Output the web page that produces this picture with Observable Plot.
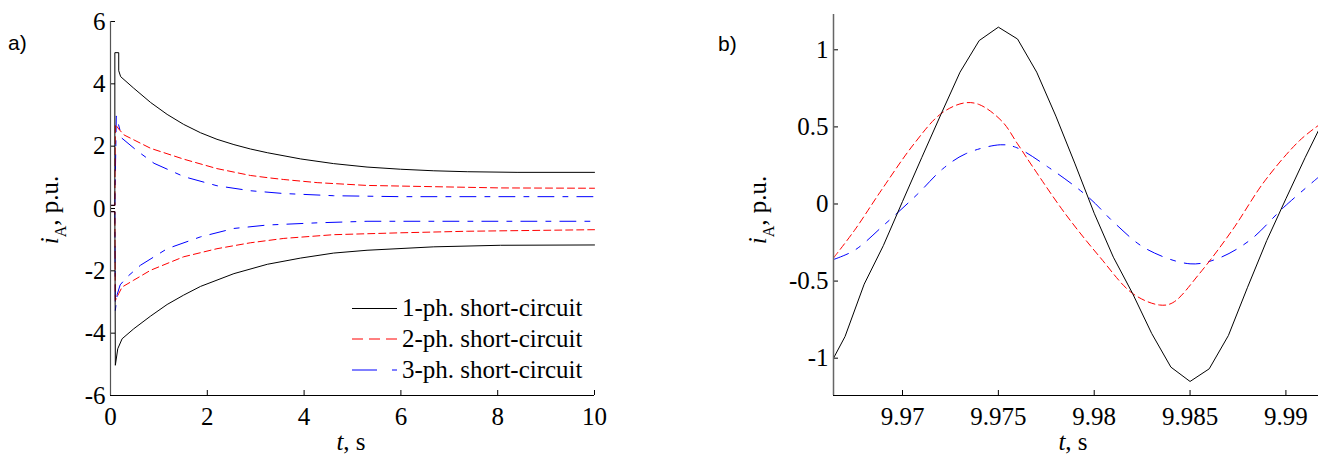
<!DOCTYPE html>
<html><head><meta charset="utf-8">
<script src="https://cdn.jsdelivr.net/npm/d3@7"></script>
<script src="https://cdn.jsdelivr.net/npm/@observablehq/plot@0.6"></script>
<style>
html,body{margin:0;padding:0;background:#fff;}
#wrap{position:relative;width:1320px;height:455px;overflow:hidden;background:#fff;}
#wrap > svg{position:absolute;top:0;}
#wrap svg, #wrap svg text, #wrap svg tspan{font-family:"Liberation Serif","DejaVu Serif","Noto Serif",serif !important;}
#wrap svg text.sans{font-family:"Liberation Sans","DejaVu Sans",sans-serif !important;}
</style></head><body><div id="wrap"></div>
<script>
// ---------- data ----------
const seriesNames = ["1-ph. short-circuit", "2-ph. short-circuit", "3-ph. short-circuit"];

// panel a) envelopes of i_A over 0..10 s
const ph1UpperT = [0, 0.09, 0.09, 0.17, 0.17, 0.21, 0.48, 0.83, 1.17, 1.51, 1.86, 2.2, 2.55, 2.89, 3.24, 3.93, 4.61, 5.3, 5.99, 6.68, 7.37, 8.4, 10];
const ph1UpperV = [0.1, 0.1, 5.0, 5.0, 4.42, 4.23, 3.86, 3.40, 3.02, 2.70, 2.43, 2.22, 2.05, 1.91, 1.79, 1.59, 1.44, 1.33, 1.26, 1.21, 1.18, 1.16, 1.16];
const ph1LowerT = [0, 0.09, 0.1, 0.15, 0.24, 0.48, 0.83, 1.17, 1.51, 1.86, 2.55, 3.24, 3.93, 4.61, 5.3, 6.68, 8.06, 10];
const ph1LowerV = [-0.1, -0.1, -5.03, -4.5, -4.18, -3.86, -3.45, -3.08, -2.78, -2.5, -2.09, -1.79, -1.59, -1.43, -1.34, -1.23, -1.18, -1.17];

const ph2UpperT = [0, 0.09, 0.1, 0.17, 0.28, 0.83, 1.52, 2.2, 2.89, 3.24, 3.58, 4.27, 5.3, 6.68, 8.06, 10];
const ph2UpperV = [0.1, 0.1, 2.7, 2.55, 2.36, 1.93, 1.58, 1.28, 1.06, 0.99, 0.93, 0.83, 0.74, 0.70, 0.66, 0.65];
const ph2LowerT = [0, 0.09, 0.1, 0.17, 0.24, 0.48, 0.83, 1.51, 2.2, 2.89, 3.58, 4.61, 5.99, 7.37, 10];
const ph2LowerV = [-0.1, -0.1, -2.95, -2.73, -2.52, -2.3, -1.98, -1.55, -1.29, -1.1, -0.96, -0.84, -0.78, -0.73, -0.68];

const ph3UpperT = [0, 0.09, 0.12, 0.24, 0.55, 0.9, 1.52, 2.2, 2.89, 3.58, 4.61, 5.99, 10];
const ph3UpperV = [0.1, 0.1, 2.97, 2.25, 1.85, 1.45, 1.02, 0.73, 0.57, 0.48, 0.41, 0.38, 0.38];
const ph3LowerT = [0, 0.09, 0.1, 0.14, 0.2, 0.34, 0.62, 1.17, 1.86, 2.55, 3.24, 4.27, 5.3, 10];
const ph3LowerV = [-0.1, -0.1, -3.27, -2.75, -2.45, -2.2, -1.82, -1.29, -0.91, -0.64, -0.53, -0.46, -0.41, -0.41];

// panel b) steady-state waveform 9.966..9.992 s
const ph1WaveT = [9.9664, 9.967, 9.968, 9.969, 9.970, 9.971, 9.972, 9.973, 9.974, 9.975, 9.976, 9.977, 9.978, 9.979, 9.980, 9.981, 9.982, 9.983, 9.984, 9.985, 9.986, 9.987, 9.988, 9.989, 9.990, 9.991, 9.9917];
const ph1WaveV = [-1.0, -0.86, -0.52, -0.27, 0.016, 0.30, 0.58, 0.855, 1.06, 1.147, 1.07, 0.855, 0.57, 0.26, -0.06, -0.345, -0.58, -0.84, -1.058, -1.151, -1.069, -0.853, -0.54, -0.237, 0.034, 0.30, 0.477];
const ph2WaveT = [9.9664, 9.9675, 9.9689, 9.9706, 9.972, 9.9732, 9.974, 9.9752, 9.976, 9.9768, 9.9785, 9.9803, 9.982, 9.9834, 9.9841, 9.9855, 9.9872, 9.9889, 9.9907, 9.9917];
const ph2WaveV = [-0.35, -0.17, 0.09, 0.39, 0.585, 0.655, 0.645, 0.535, 0.39, 0.24, -0.065, -0.345, -0.58, -0.655, -0.64, -0.45, -0.17, 0.15, 0.41, 0.51];
const ph3WaveT = [9.9664, 9.9675, 9.969, 9.9708, 9.9721, 9.9733, 9.9751, 9.9759, 9.9776, 9.9797, 9.9811, 9.9827, 9.985, 9.9864, 9.9881, 9.9899, 9.9917];
const ph3WaveV = [-0.36, -0.30, -0.14, 0.066, 0.228, 0.326, 0.384, 0.368, 0.239, 0.044, -0.128, -0.29, -0.388, -0.356, -0.237, -0.02, 0.174];

const ticksAX = [0, 2, 4, 6, 8, 10];
const ticksAY = [-6, -4, -2, 0, 2, 4, 6];
const ticksBX = [9.97, 9.975, 9.98, 9.985, 9.99];
const ticksBY = [-1, -0.5, 0, 0.5, 1];

// ---------- build tables ----------
function rows(ts, vs, series, part) {
  return ts.map((t, i) => ({t, v: vs[i], series, key: series + part}));
}
const envRows = [
  ...rows(ph1UpperT, ph1UpperV, 0, "u"), ...rows(ph1LowerT, ph1LowerV, 0, "l"),
  ...rows(ph2UpperT, ph2UpperV, 1, "u"), ...rows(ph2LowerT, ph2LowerV, 1, "l"),
  ...rows(ph3UpperT, ph3UpperV, 2, "u"), ...rows(ph3LowerT, ph3LowerV, 2, "l")
];
const waveRows = [
  ...rows(ph1WaveT, ph1WaveV, 0, "w"),
  ...rows(ph2WaveT, ph2WaveV, 1, "w"),
  ...rows(ph3WaveT, ph3WaveV, 2, "w")
];

// ---------- styles ----------
const STY = [
  {stroke: "#000000", dash: null, legDash: null, curveA: "linear", curveB: "linear"},
  {stroke: "#ff0000", dash: "7,4", legDash: "11,6", curveA: "linear", curveB: "catmull-rom"},
  {stroke: "#0000ff", dash: "16,9,5,9", legDash: "25,15,5,5", curveA: "linear", curveB: "catmull-rom"}
];
const fontFam = "Liberation Serif, DejaVu Serif, serif";
const fmt = d => String(d);

function seriesMarks(data, which) {
  return [2, 1, 0].map(s => Plot.line(data.filter(d => d.series === s), {
    x: "t", y: "v", z: "key", stroke: STY[s].stroke, strokeWidth: 1,
    strokeDasharray: STY[s].dash, curve: which === "a" ? STY[s].curveA : STY[s].curveB
  }));
}

const common = {
  width: 660, height: 455, marginBottom: 60,
  style: {fontFamily: fontFam, fontSize: "25px", background: "transparent", color: "#000", overflow: "visible"}
};

const plotA = Plot.plot({
  ...common,
  marginLeft: 110, marginRight: 66, marginTop: 21,
  x: {domain: [0, 10], ticks: ticksAX, tickFormat: fmt, label: null},
  y: {domain: [-6, 6], ticks: ticksAY, tickFormat: fmt, label: null},
  marks: [
    ...seriesMarks(envRows, "a"),
    Plot.axisX({ticks: ticksAX, tickFormat: fmt, tickSize: -5, tickPadding: 17, label: null}),
    Plot.axisY({ticks: ticksAY, tickFormat: fmt, tickSize: -5, tickPadding: 10, label: null}),
    Plot.ruleX([0], {stroke: "#555", strokeWidth: 1.2}),
    Plot.ruleY([-6], {stroke: "#000"})
  ]
});

const plotB = Plot.plot({
  ...common,
  marginLeft: 173, marginRight: 2, marginTop: 14,
  clip: true,
  x: {domain: [9.9664, 9.9917], ticks: ticksBX, tickFormat: fmt, label: null},
  y: {domain: [-1.242, 1.229], ticks: ticksBY, tickFormat: fmt, label: null},
  marks: [
    ...seriesMarks(waveRows, "b"),
    Plot.axisX({ticks: ticksBX, tickFormat: fmt, tickSize: -5, tickPadding: 17, label: null, clip: false}),
    Plot.axisY({ticks: ticksBY, tickFormat: fmt, tickSize: -5, tickPadding: 10, label: null, clip: false}),
    Plot.ruleX([9.9664], {stroke: "#666", strokeWidth: 1.5, clip: false}),
    Plot.ruleY([-1.242], {stroke: "#000", clip: false})
  ]
});

const wrap = document.getElementById("wrap");
plotA.style.left = "0px";
plotB.style.left = "660px";
wrap.appendChild(plotA);
wrap.appendChild(plotB);

// ---------- overlay: panel letters, axis titles, legend ----------
const ov = d3.create("svg").attr("width", 1320).attr("height", 455)
  .style("position", "absolute").style("left", "0px").style("top", "0px")
  .style("pointer-events", "none");

ov.append("text").attr("class", "sans").attr("x", 8).attr("y", 50).attr("font-size", 21).text("a)");
ov.append("text").attr("class", "sans").attr("x", 718).attr("y", 51).attr("font-size", 21).text("b)");

function yTitle(x, y) {
  const t = ov.append("text").attr("transform", `translate(${x},${y}) rotate(-90)`)
    .attr("text-anchor", "middle").attr("font-size", 25);
  t.append("tspan").attr("font-style", "italic").text("i");
  t.append("tspan").attr("font-size", 16).attr("dy", 8).text("A");
  t.append("tspan").attr("dy", -8).text(", p.u.");
}
yTitle(58, 210);
yTitle(766, 210);

function xTitle(x, y) {
  const t = ov.append("text").attr("x", x).attr("y", y).attr("text-anchor", "middle").attr("font-size", 25);
  t.append("tspan").attr("font-style", "italic").text("t");
  t.append("tspan").text(", s");
}
xTitle(351, 450);
xTitle(1073, 450);

// legend
const legY = [308.5, 339, 370];
seriesNames.forEach((name, i) => {
  ov.append("line").attr("x1", 352).attr("x2", 397).attr("y1", legY[i]).attr("y2", legY[i])
    .attr("stroke", STY[i].stroke).attr("stroke-width", 1)
    .attr("stroke-dasharray", STY[i].legDash);
  ov.append("text").attr("x", 402).attr("y", legY[i] + 7.5).attr("font-size", 25).text(name);
});

wrap.appendChild(ov.node());
</script>
</body></html>
